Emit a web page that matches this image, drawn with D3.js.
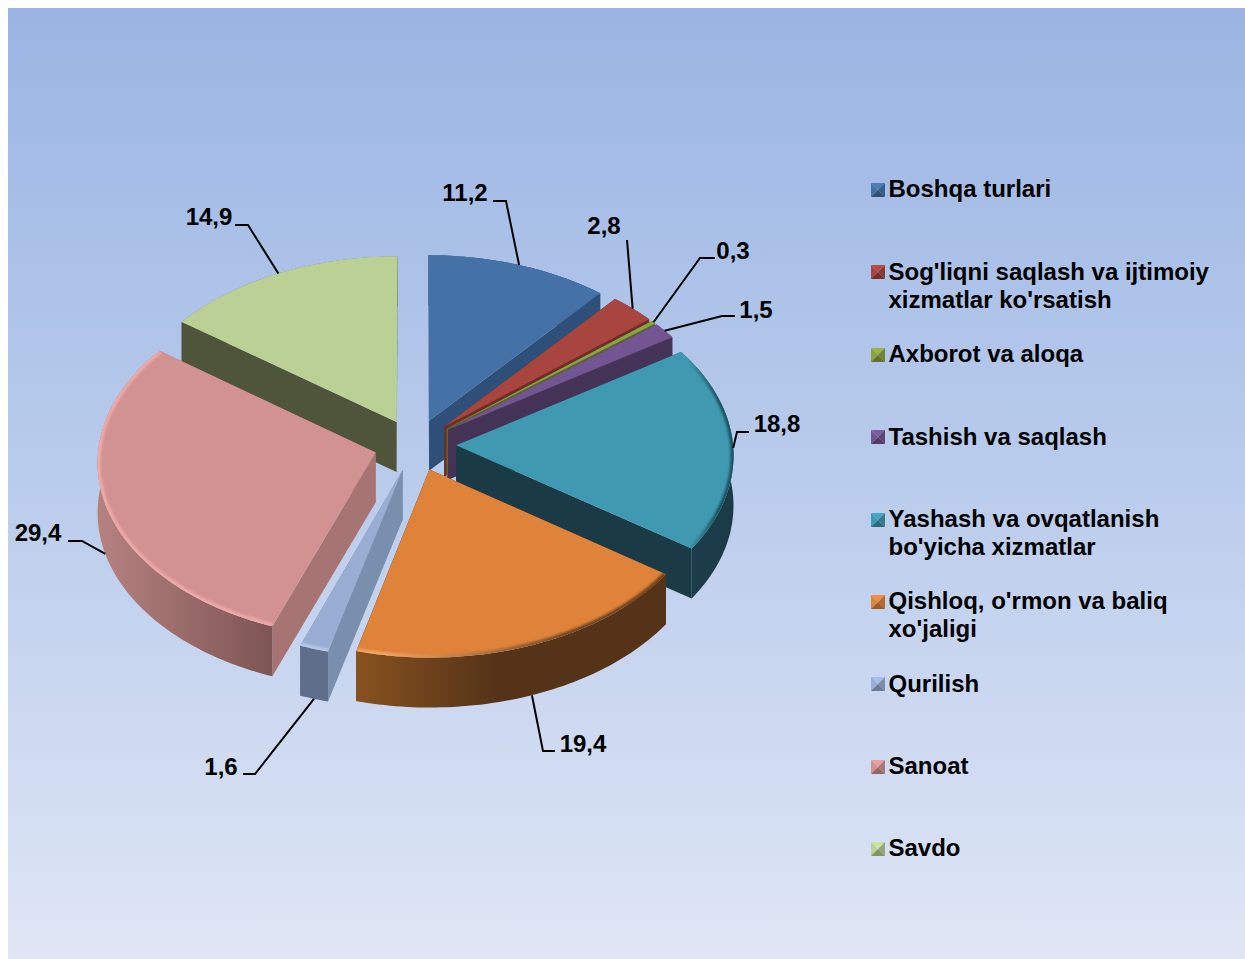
<!DOCTYPE html>
<html><head><meta charset="utf-8">
<script src="https://cdn.jsdelivr.net/npm/d3@7/dist/d3.min.js"></script>
<style>html,body{margin:0;padding:0;background:#fff}svg{display:block}
text{font-family:"Liberation Sans",Arial,sans-serif;font-weight:700;fill:#000;font-size:24px}</style>
</head><body><svg id="c" width="1245" height="959"></svg>
<script>
const categories = ["Boshqa turlari","Sog'liqni saqlash va ijtimoiy\nxizmatlar ko'rsatish","Axborot va aloqa","Tashish va saqlash","Yashash va ovqatlanish\nbo'yicha xizmatlar","Qishloq, o'rmon va baliq\nxo'jaligi","Qurilish","Sanoat","Savdo"];
const values = [11.2,2.8,0.3,1.5,18.8,19.4,1.6,29.4,14.9];
const valueLabels = ["11,2","2,8","0,3","1,5","18,8","19,4","1,6","29,4","14,9"];
const topColors = ["#4472A6","#A9453F","#8AA53F","#725591","#3F99B1","#DF823A","#9AAED4","#D39292","#BBD095"];
const sideColors = ["#2E4F78","#6E2C2A","#56692A","#443356","#1A3A46","#5F3516","#7A8FAE","#A67472","#4F553A"];
const wallLeft = ["#2E4F78","#6E2C2A","#56692A","#443356","#1C3E4A","#87521F","#5F6F8B","#B58280","#4F553A"];
const wallRight = ["#2E4F78","#6E2C2A","#56692A","#443356","#1A3A46","#553318","#5F6F8B","#7D5553","#4F553A"];
const wallEnd = [1,1,1,1,1,0.45,1,1,1];
const rimLeft = ["#4472A6","#A9453F","#8AA53F","#725591","#3F99B1","#F2A464","#B6C9EE","#EFAAA8","#BBD095"];
const rimRight = ["#4472A6","#A9453F","#8AA53F","#725591","#1F5262","#6E4420","#B6C9EE","#EFAAA8","#BBD095"];
// label text anchor and leader elbow
const labelText = [[465,193],[604,226],[733,251],[756,310],[777,424],[583,744],[221,767],[38,533],[209,217]];
const leaderFrom = [[493,201,506,201],[627,240,627,240],[715,258,700,258],[735,316,722,316],[749,432,737,432],[555,751,543,751],[243,774,255,774],[68,541,82,541],[235,225,248,225]];

const W=1245,H=959;
const svg=d3.select("#c");
const defs=svg.append("defs");
const bg=defs.append("linearGradient").attr("id","bg").attr("x1",0).attr("y1",0).attr("x2",0).attr("y2",1);
[[0,"#9AB5E3"],[.5,"#BACCEC"],[1,"#DFE6F5"]].forEach(s=>bg.append("stop").attr("offset",s[0]).attr("stop-color",s[1]));
defs.append("filter").attr("id","soft").attr("filterUnits","userSpaceOnUse").attr("x",0).attr("y",0).attr("width",W).attr("height",H)
  .append("feGaussianBlur").attr("stdDeviation",1);
svg.append("rect").attr("x",8).attr("y",8).attr("width",W-8).attr("height",H-8).attr("fill","url(#bg)");

// projection of the tilted pie
const Cx=415,Cy=445,R=277,Ry=176,K=0.05,EXPLODE=0.148,DEPTH=50;
function project(u,v,z){const p=1/(1-K*v);return [Cx+R*u*p,Cy+Ry*v*p+z];}
const pie=d3.pie().sort(null).value(d=>d).startAngle(0).endAngle(2*Math.PI)(values);
const line=d3.line();
function geom(a){
  const m=(a.startAngle+a.endAngle)/2, ox=EXPLODE*Math.sin(m), oy=-EXPLODE*Math.cos(m);
  const pt=(r,t,z)=>project(ox+r*Math.sin(t),oy-r*Math.cos(t),z);
  const n=Math.max(3,Math.ceil((a.endAngle-a.startAngle)/0.02));
  const ang=d3.range(n+1).map(i=>a.startAngle+(a.endAngle-a.startAngle)*i/n);
  return {m,pt,ang};
}
const order=d3.range(values.length).sort((i,j)=>{
  const mi=(pie[i].startAngle+pie[i].endAngle)/2,mj=(pie[j].startAngle+pie[j].endAngle)/2;
  return Math.cos(mj)-Math.cos(mi);
});
const g=svg.append("g");
order.forEach(i=>{
  const {pt,ang}=geom(pie[i]);
  const a=pie[i],s=g.append("g");
  const side=t=>[pt(0,t,0),pt(1,t,0),pt(1,t,DEPTH),pt(0,t,DEPTH)];
  s.append("path").attr("d",line(side(a.startAngle))+"Z").attr("fill",sideColors[i]);
  s.append("path").attr("d",line(side(a.endAngle))+"Z").attr("fill",sideColors[i]);
  const rim=ang.map(t=>pt(1,t,0));
  const wall=rim.concat(ang.slice().reverse().map(t=>pt(1,t,DEPTH)));
  const xs=d3.extent(rim,d=>d[0]);
  const lg=defs.append("linearGradient").attr("id","w"+i).attr("gradientUnits","userSpaceOnUse")
    .attr("x1",xs[0]).attr("y1",0).attr("x2",xs[1]).attr("y2",0);
  lg.append("stop").attr("offset",0).attr("stop-color",wallLeft[i]);
  lg.append("stop").attr("offset",wallEnd[i]).attr("stop-color",wallRight[i]);
  s.append("path").attr("d",line(wall)+"Z").attr("fill",`url(#w${i})`);
  const topD=line([pt(0,a.startAngle,0)].concat(rim))+"Z";
  s.append("path").attr("d",topD).attr("fill",topColors[i]);
  // bevel along the rim
  const rg=defs.append("linearGradient").attr("id","r"+i).attr("gradientUnits","userSpaceOnUse")
    .attr("x1",xs[0]).attr("y1",0).attr("x2",xs[1]).attr("y2",0);
  rg.append("stop").attr("offset",0.1).attr("stop-color",rimLeft[i]);
  rg.append("stop").attr("offset",0.7).attr("stop-color",rimRight[i]);
  defs.append("clipPath").attr("id","t"+i).append("path").attr("d",topD);
  s.append("g").attr("clip-path",`url(#t${i})`).append("path")
    .attr("d",line(rim))
    .attr("fill","none").attr("stroke",`url(#r${i})`).attr("stroke-width",6).attr("filter","url(#soft)");
});

// leaders and value labels
const lab=svg.append("g");
values.forEach((v,i)=>{
  const {m,pt}=geom(pie[i]);
  const e=pt(1,m,0), lf=leaderFrom[i];
  const below=Math.cos(m)<-0.2 && Math.abs(Math.sin(m))<0.98;
  const end=below?pt(1,m,DEPTH):e;
  const pts=lf[0]===lf[2]?[[lf[0],lf[1]],end]:[[lf[0],lf[1]],[lf[2],lf[3]],end];
  lab.append("path").attr("d",line(pts)).attr("fill","none").attr("stroke","#000").attr("stroke-width",2);
  lab.append("text").attr("x",labelText[i][0]).attr("y",labelText[i][1]+8).attr("text-anchor","middle").text(valueLabels[i]);
});

// legend
const ly=d3.scaleLinear().domain([0,categories.length-1]).range([189,848]);
const leg=svg.append("g");
categories.forEach((c,i)=>{
  const y=ly(i),x=871,sz=14,t=Math.round(y)-6,cx=x+sz/2,cy=t+sz/2;
  const base=d3.color(topColors[i]);
  const tri=(a,b,f)=>leg.append("path").attr("d",line([a,b,[cx,cy]])+"Z").attr("fill",f);
  tri([x,t],[x+sz,t],base.brighter(0.25));
  tri([x,t],[x,t+sz],base);
  tri([x+sz,t],[x+sz,t+sz],base.darker(0.6));
  tri([x,t+sz],[x+sz,t+sz],base.darker(1));
  c.split("\n").forEach((l,k)=>{
    leg.append("text").attr("x",888.5).attr("y",Math.round(y+0.4)+8+k*28).text(l);
  });
});
</script></body></html>
